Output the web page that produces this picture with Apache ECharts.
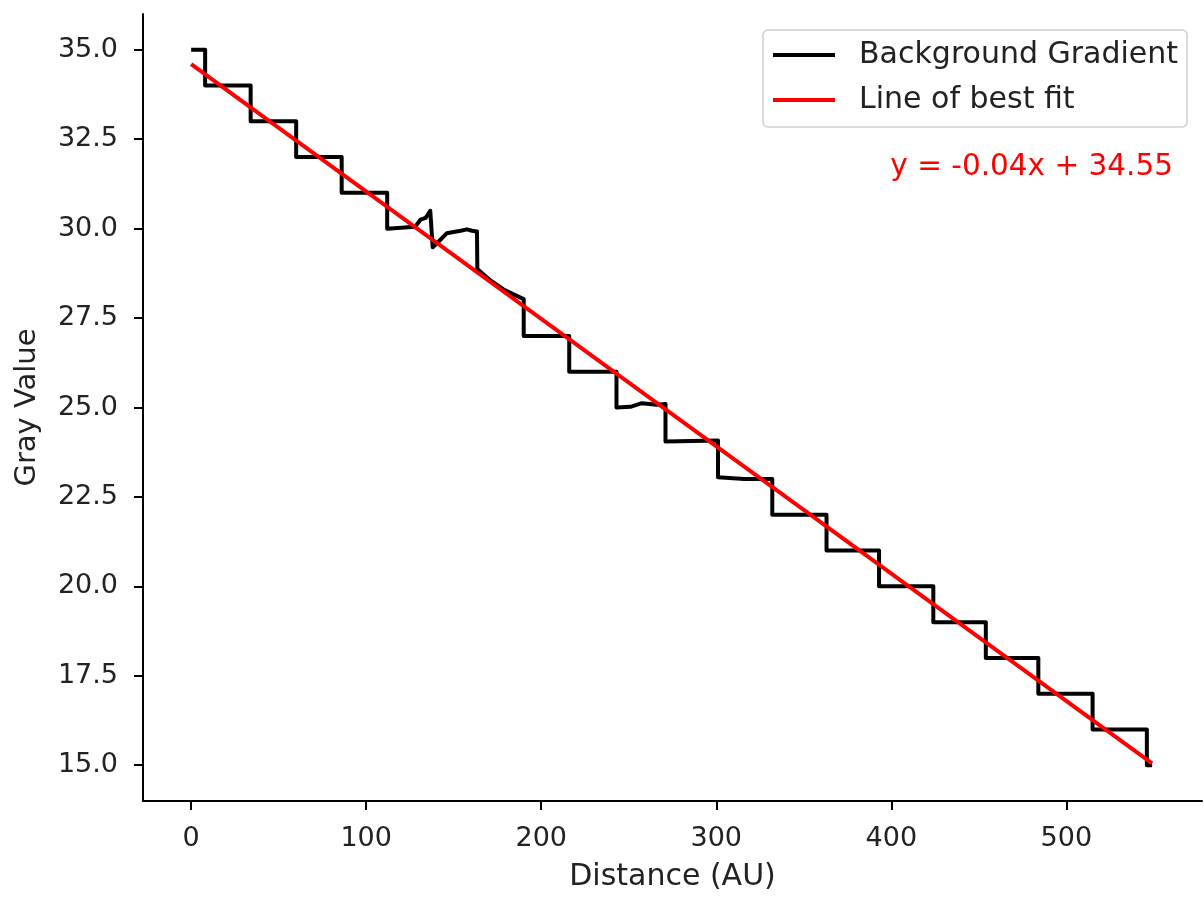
<!DOCTYPE html>
<html>
<head>
<meta charset="utf-8">
<title>Background Gradient</title>
<script src="https://cdn.jsdelivr.net/npm/echarts@6/dist/echarts.min.js"></script>
<style>
    html, body { margin: 0; padding: 0; background: #fff; }
    #chart { width: 1204px; height: 897px; }
</style>
</head>
<body>
<div id="chart"></div>
<script>
// profile (distance, gray value) – corners of the steps
let stepX = [0, 8, 8, 34, 34, 60, 60, 86, 86, 112, 112, 128, 131, 134, 136.6, 138, 141, 146, 154, 157.5,
    160.5, 163.3, 163.5, 171, 178.5, 186, 190, 190, 216, 216, 243, 243, 251, 257.5, 266, 271, 271, 301, 301, 316,
    332, 332, 363, 363, 393, 393, 424, 424, 454, 454, 484, 484, 515, 515, 546, 546, 549];
let stepY = [35, 35, 34, 34, 33, 33, 32, 32, 31, 31, 30, 30.05, 30.25, 30.3, 30.5, 29.48, 29.62, 29.87, 29.94, 29.98,
    29.94, 29.92, 28.87, 28.55, 28.3, 28.12, 28.03, 27, 27, 26, 26, 25, 25.02, 25.12, 25.08, 25.1, 24.05, 24.08, 23.05, 23.0,
    23, 22, 22, 21, 21, 20, 20, 19, 19, 18, 18, 17, 17, 16, 16, 15, 15];

// best fit line end points
let fitX = [0, 549];
let fitY = [34.6, 15.05];

let xTicks = [0, 100, 200, 300, 400, 500];
let yTicks = [15, 17.5, 20, 22.5, 25, 27.5, 30, 32.5, 35];

let seriesNames = ['Background Gradient', 'Line of best fit'];
let fitLabel = 'y = -0.04x + 34.55';

let font = 'DejaVu Sans';

function toPairs(xs, ys) {
    let out = [];
    for (let i = 0; i < xs.length; i++) {
        out.push([xs[i], ys[i]]);
    }
    return out;
}

let chart = echarts.init(document.getElementById('chart'), null, { renderer: 'canvas' });

let option = {
    animation: false,
    backgroundColor: '#fff',
    grid: {
        left: 143,
        right: 2,
        top: 14,
        bottom: 93
    },
    legend: {
        orient: 'vertical',
        left: 763,
        top: 30,
        padding: [8, 9, 10, 10],
        itemWidth: 62,
        itemHeight: 4,
        itemGap: 11,
        backgroundColor: 'rgba(255,255,255,0.8)',
        borderColor: '#d0d0d0',
        borderWidth: 1.5,
        borderRadius: 5,
        data: [
            { name: seriesNames[0], icon: 'rect' },
            { name: seriesNames[1], icon: 'rect' }
        ],
        textStyle: {
            fontFamily: font,
            fontSize: 30,
            color: '#222',
            lineHeight: 34,
            padding: [0, 0, 0, 19]
        }
    },
    xAxis: {
        type: 'value',
        min: -27.5,
        max: 577.5,
        name: 'Distance (AU)',
        nameLocation: 'middle',
        nameGap: 61,
        nameTextStyle: { fontFamily: font, fontSize: 30, color: '#222' },
        splitLine: { show: false },
        axisLine: { show: true, onZero: false, lineStyle: { color: '#000', width: 2 } },
        axisTick: { show: true, length: 9, lineStyle: { color: '#000', width: 2 }, customValues: xTicks },
        axisLabel: {
            margin: 24,
            fontFamily: font,
            fontSize: 27,
            color: '#222',
            customValues: xTicks
        }
    },
    yAxis: {
        type: 'value',
        min: 14,
        max: 36,
        name: 'Gray Value',
        nameLocation: 'middle',
        nameGap: 101,
        nameTextStyle: { fontFamily: font, fontSize: 29, color: '#222' },
        splitLine: { show: false },
        axisLine: { show: true, onZero: false, lineStyle: { color: '#000', width: 2 } },
        axisTick: { show: true, length: 9, lineStyle: { color: '#000', width: 2 }, customValues: yTicks },
        axisLabel: {
            margin: 25,
            fontFamily: font,
            fontSize: 27,
            color: '#222',
            customValues: yTicks,
            formatter: function (v) {
                return v.toFixed(1);
            }
        }
    },
    series: [
        {
            name: seriesNames[0],
            type: 'line',
            data: toPairs(stepX, stepY),
            showSymbol: false,
            color: '#000',
            lineStyle: { color: '#000', width: 4, join: 'round' },
            z: 2
        },
        {
            name: seriesNames[1],
            type: 'line',
            data: toPairs(fitX, fitY),
            showSymbol: false,
            color: '#ff0000',
            lineStyle: { color: '#ff0000', width: 4 },
            z: 3
        }
    ],
    graphic: [
        {
            type: 'text',
            right: 31,
            top: 152,
            style: {
                text: fitLabel,
                fill: '#ff0000',
                font: '29.5px "DejaVu Sans"'
            }
        }
    ]
};

chart.setOption(option);
</script>
</body>
</html>
